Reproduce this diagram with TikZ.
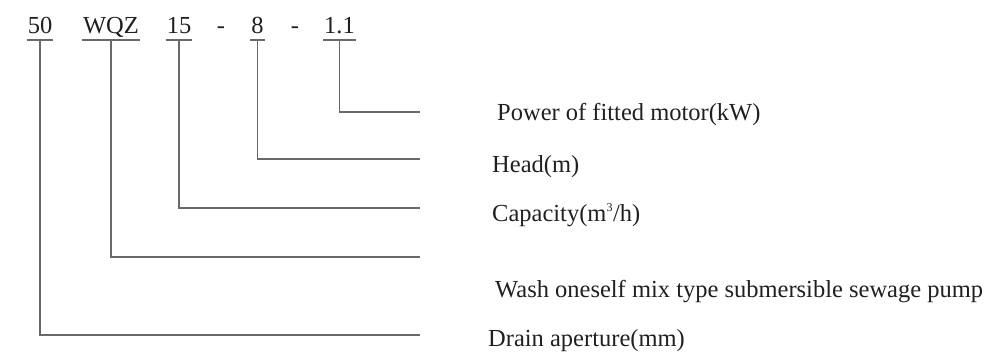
\documentclass[tikz,border=0pt]{standalone}
\usepackage{fontspec}
\setmainfont{Liberation Serif}
\definecolor{txt}{RGB}{35,31,32}
\definecolor{ln}{RGB}{105,105,105}
\begin{document}
\begin{tikzpicture}[x=1pt,y=-1pt,
  code/.style={anchor=base,inner xsep=1pt,inner ysep=0pt,text=txt,font=\fontsize{24.5}{29}\selectfont},
  lbl/.style={anchor=base west,inner sep=0pt,text=txt,font=\fontsize{24.5}{29}\selectfont},
  wire/.style={draw=ln,line width=1.3pt},
  uline/.style={draw=ln,line width=1.3pt}]
\useasboundingbox (0,0) rectangle (1003,354);
% code parts
\node[code] (c50) at (40,33) {50};
\node[code] (cwqz) at (111,33) {WQZ};
\node[code] (c15) at (179,33) {15};
\node[code] (d1) at (221,33) {-};
\node[code] (c8) at (257.5,33) {8};
\node[code] (d2) at (295,33) {-};
\node[code] (c11) at (339.5,33) {1.1};
% underlines
\foreach \n in {c50,cwqz,c15,c8,c11}
  \draw[uline] ([yshift=-7pt]\n.base west) -- ([yshift=-7pt]\n.base east);
% line ends
\coordinate (e11) at (420,112);
\coordinate (e8) at (420,159);
\coordinate (e15) at (420,208);
\coordinate (ewqz) at (420,257);
\coordinate (e50) at (420,335);
% connectors
\draw[wire] ([yshift=-7pt]c11.base) |- (e11);
\draw[wire] ([yshift=-7pt]c8.base) |- (e8);
\draw[wire] ([yshift=-7pt]c15.base) |- (e15);
\draw[wire] ([yshift=-7pt]cwqz.base) |- (ewqz);
\draw[wire] ([yshift=-7pt]c50.base) |- (e50);
% labels
\node[lbl] (lpow) at (497,120) {Power of fitted motor(kW)};
\node[lbl] (lhead) at (492,172) {Head(m)};
\node[lbl] (lcap) at (492,221) {Capacity(m\textsuperscript{\fontsize{12}{12}\selectfont 3}/h)};
\node[lbl] (lwash) at (495,297) {Wash oneself mix type submersible sewage pump};
\node[lbl] (ldrain) at (488,346) {Drain aperture(mm)};
\end{tikzpicture}
\end{document}
